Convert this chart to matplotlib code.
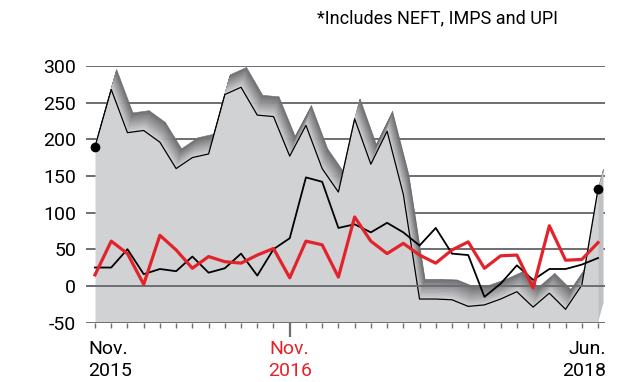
import matplotlib
matplotlib.use("Agg")
import matplotlib.pyplot as plt
import numpy as np
from matplotlib.colors import to_rgb

# Monthly series, Nov 2015 .. Jun 2018
months = list(range(32))
grey_series = [190, 268, 209, 212, 196, 160, 175, 180, 261, 271, 233, 231, 177, 219, 160, 128,
               228, 166, 211, 125, -18, -18, -19, -28, -26, -18, -8, -29, -10, -32, 1, 132]
black_series = [25, 25, 50, 16, 23, 20, 40, 18, 24, 44, 14, 50, 65, 148, 142, 79,
                84, 73, 86, 73, 55, 79, 44, 42, -15, 3, 28, 8, 23, 23, 29, 38]
red_series = [15, 61, 44, 2, 69, 49, 24, 40, 33, 31, 42, 51, 11, 61, 56, 12,
              94, 61, 44, 58, 42, 31, 49, 60, 24, 41, 42, -3, 82, 35, 36, 59]

y_ticks = [300, 250, 200, 150, 100, 50, 0, -50]
x_labels = [(0, "Nov.\n2015"), (12, "Nov.\n2016"), (31, "Jun.\n2018")]
footnote = "*Includes NEFT, IMPS and UPI"

FONT = ["Roboto", "DejaVu Sans"]
RED = "#e3232b"
FACE = "#d1d2d4"
GRID = "#6d6e71"

W, H = 643, 382
fig = plt.figure(figsize=(W / 100, H / 100), dpi=100)
ax = fig.add_axes([86 / W, (H - 322.5) / H, (605 - 86) / W, (322.5 - 66) / H])
ax.set_xlim(-0.555, 31.43)
ax.set_ylim(-50, 300)
for s in ax.spines.values():
    s.set_visible(False)

# horizontal rules
for v in y_ticks:
    z = 6 if v in (0, -50) else 0.5
    ax.axhline(v, color=GRID, lw=1.4, zorder=z)

# extruded ribbon: depth offset in data units
dx, dy = 0.34, 27.0
x = np.array(months, dtype=float)
yg = np.array(grey_series, dtype=float)

light = np.array(to_rgb("#d6d6d8"))
dark = np.array(to_rgb("#6c6c6e"))
nstrip = 14


def band(p0, p1, ofs0, ofs1, zo):
    for k in range(nstrip):
        t0, t1 = k / nstrip, (k + 1) / nstrip
        c = light + (dark - light) * ((t0 + t1) / 2)
        xs = [p0[0] + ofs0[0] * t0, p1[0] + ofs1[0] * t0, p1[0] + ofs1[0] * t1, p0[0] + ofs0[0] * t1]
        ys = [p0[1] + ofs0[1] * t0, p1[1] + ofs1[1] * t0, p1[1] + ofs1[1] * t1, p0[1] + ofs0[1] * t1]
        ax.fill(xs, ys, color=c, lw=0.4, ec=c, zorder=zo, clip_on=False)


for i in range(len(x) - 1):
    band((x[i], yg[i]), (x[i + 1], yg[i + 1]), (dx, dy), (dx, dy), 2)

# right-hand side face
xr = x[-1]
side_x = [xr, xr + dx, xr + dx, xr]
side_y = [yg[-1], yg[-1] + dy, -50 + dy, -50]
ax.fill(side_x, side_y, color="#bfc0c2", lw=0, zorder=2.5, clip_on=False)

# front face
ax.fill_between(x, yg, -50, color=FACE, lw=0, zorder=3)
ax.plot(x, yg, color="black", lw=0.9, zorder=4)
ax.plot([x[0], x[-1]], [yg[0], yg[-1]], "o", color="black", ms=6, zorder=8)

ax.plot(x, black_series, color="black", lw=1.3, zorder=7)
ax.plot(x, red_series, color=RED, lw=2.3, zorder=7.5)

# ticks
ax.set_xticks(months)
ax.tick_params(axis="x", length=3.5, width=1, color=GRID, labelbottom=False)
t12 = ax.xaxis.get_major_ticks()[12]
t12.tick1line.set_color(RED)
t12.tick1line.set_markersize(10)
t12.tick1line.set_markeredgewidth(1.6)

ax.set_yticks(y_ticks)
ax.set_yticklabels([str(v) for v in y_ticks], family=FONT, fontsize=14)
ax.tick_params(axis="y", length=0, pad=7)

for idx, txt in x_labels:
    ha = "left" if idx == 0 else ("right" if idx == 31 else "center")
    off = -7 if idx == 0 else (8 if idx == 31 else 0)
    ax.annotate(txt, xy=(idx, -50), xycoords="data", xytext=(off, -17), textcoords="offset pixels",
                ha=ha, va="top", family=FONT, fontsize=14, linespacing=1.3,
                color=RED if idx == 12 else "black", multialignment=ha)

fig.text(317 / W, 1 - 18 / H, footnote, family=FONT, fontsize=13, va="center", ha="left")

fig.savefig("out.png", dpi=100)
